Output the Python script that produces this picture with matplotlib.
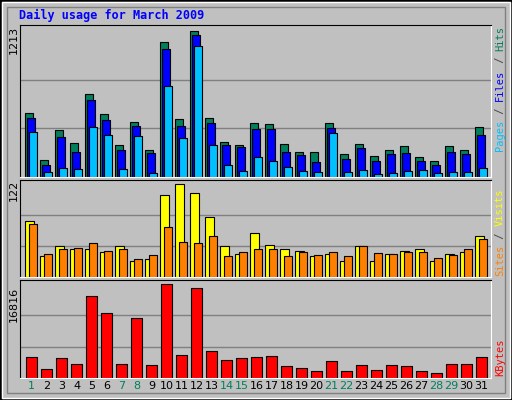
import matplotlib
matplotlib.use("Agg")
import matplotlib.pyplot as plt
from matplotlib.patches import Rectangle

days = list(range(1, 32))
weekend = [1, 7, 8, 14, 15, 21, 22, 28, 29]
hits = [528,140,388,280,693,520,264,456,223,1122,478,1213,487,289,264,445,437,272,206,206,445,190,272,173,223,256,165,132,256,223,412]
files = [487,99,330,206,643,470,223,421,198,1064,421,1180,445,264,247,396,396,206,181,124,404,148,239,132,190,198,132,99,206,190,346]
pages = [371,41,74,66,412,346,66,338,33,759,322,1089,264,99,50,165,132,82,50,41,363,41,58,25,33,50,58,33,41,41,74]
visits = [73,27,41,36,37,33,40,21,23,107,122,110,78,40,30,58,42,37,34,27,30,21,41,21,30,34,36,21,30,33,53]
sites = [69,30,37,38,45,34,37,23,29,66,46,44,53,27,33,37,37,28,33,29,33,27,41,32,30,33,33,25,29,36,50]
kbytes = [3696,1663,3511,2587,14599,11642,2587,10718,2402,16816,4066,16078,4805,3142,3511,3696,3881,2218,1848,1294,2957,1294,2402,1478,2402,2218,1294,924,2587,2587,3696]

W, H = 512, 400
fig = plt.figure(figsize=(W/100, H/100), dpi=100, facecolor="#C0C0C0")
mono = "DejaVu Sans Mono"

fig.patches.append(Rectangle((0, 0), 1, 1, transform=fig.transFigure, fill=False, ec="black", lw=2))
fig.patches.append(Rectangle((2/W, 2/H), 1-4/W, 1-4/H, transform=fig.transFigure, fill=False, ec="white", lw=1))
fig.patches.append(Rectangle((7/W, 7/H), 1-14/W, 1-14/H, transform=fig.transFigure, fill=False, ec="#808080", lw=1))

def mkax(top, bot):
    ax = fig.add_axes([20/W, 1-bot/H, 471/W, (bot-top)/H], facecolor="#C0C0C0")
    ax.set_xlim(0, 31.4)
    ax.set_xticks([]); ax.set_yticks([])
    for s in ["top", "left"]:
        ax.spines[s].set_color("black")
    for s in ["bottom", "right"]:
        ax.spines[s].set_color("white")
    return ax

x = [d - 1 for d in days]
ax1 = mkax(25, 177)
ax1.set_ylim(0, 1213*1.04)
for g in [1213/3, 1213*2/3]:
    ax1.axhline(g, color="#808080", lw=1, zorder=0)
ax1.bar([i+0.35 for i in x], hits, width=0.5, align="edge", color="#00805C", ec="black", lw=0.8)
ax1.bar([i+0.48 for i in x], files, width=0.5, align="edge", color="#0000FF", ec="black", lw=0.8)
ax1.bar([i+0.62 for i in x], pages, width=0.5, align="edge", color="#00C0FF", ec="black", lw=0.8)

ax2 = mkax(180, 277)
ax2.set_ylim(0, 122*1.04)
for g in [122/3, 122*2/3]:
    ax2.axhline(g, color="#808080", lw=1, zorder=0)
ax2.bar([i+0.35 for i in x], visits, width=0.55, align="edge", color="#FFFF00", ec="black", lw=0.8)
ax2.bar([i+0.62 for i in x], sites, width=0.5, align="edge", color="#FF8000", ec="black", lw=0.8)

ax3 = mkax(280, 378)
ax3.set_ylim(0, 16816*1.04)
for g in [16816/3, 16816*2/3]:
    ax3.axhline(g, color="#808080", lw=1, zorder=0)
ax3.bar([i+0.42 for i in x], kbytes, width=0.7, align="edge", color="#FF0000", ec="black", lw=0.8)

for d in days:
    ax3.text(d-1+0.77, -0.085, str(d), transform=ax3.get_xaxis_transform(), ha="center", va="center",
             fontsize=8, family="DejaVu Sans", color="#00805C" if d in weekend else "black")

fig.text(19/W, 1-15/H, "Daily usage for March 2009", color="#0000FF", fontsize=8.5, family=mono,
         fontweight="bold", va="center", ha="left")
fig.text(14/W, 1-40/H, "1213", rotation=90, fontsize=8, family="DejaVu Sans", ha="center", va="center")
fig.text(14/W, 1-190/H, "122", rotation=90, fontsize=8, family="DejaVu Sans", ha="center", va="center")
fig.text(14/W, 1-304/H, "16816", rotation=90, fontsize=8, family="DejaVu Sans", ha="center", va="center")

FS = 7.5
CH = 0.602 * FS * 100 / 72  # px per mono character
def rlabel(parts, ybottom):
    y = ybottom
    for t, c in parts:
        fig.text(500/W, 1-y/H, t, rotation=90, color=c, fontsize=FS, family=mono, ha="center", va="bottom")
        y -= len(t) * CH
rlabel([("Pages", "#00C0FF"), (" / ", "#404040"), ("Files", "#0000FF"), (" / ", "#404040"), ("Hits", "#00805C")], 151)
rlabel([("Sites", "#FF8000"), (" / ", "#404040"), ("Visits", "#FFFF00")], 276)
rlabel([("KBytes", "#FF0000")], 376)

fig.savefig("out.png", dpi=100, facecolor=fig.get_facecolor())
